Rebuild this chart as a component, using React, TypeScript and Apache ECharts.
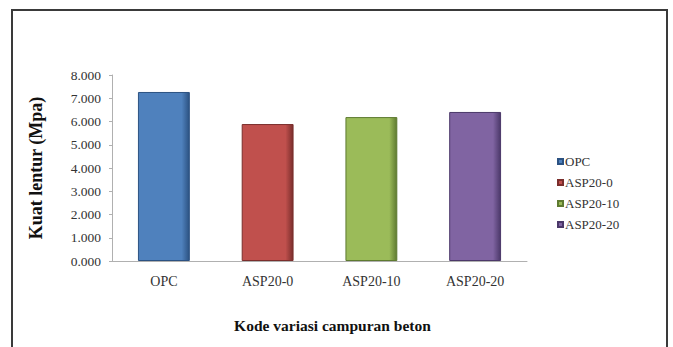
import React, { useEffect, useRef } from "react";
import * as echarts from "echarts";

const categories = ["OPC", "ASP20-0", "ASP20-10", "ASP20-20"];
const values = [7.27, 5.89, 6.19, 6.41];
const colors = ["#4F81BD", "#C0504D", "#9BBB59", "#8064A2"];
const edgeColors = ["#2C5282", "#7A2E2C", "#5E7A30", "#4B3869"];
const yTicks = [0, 1, 2, 3, 4, 5, 6, 7, 8];

const FONT = "Liberation Serif";

export default function App() {
  const ref = useRef<HTMLDivElement>(null);

  useEffect(() => {
    if (!ref.current) return;
    const chart = echarts.init(ref.current, null, { renderer: "svg" });

    const series = categories.map((name, i) => ({
      name,
      type: "bar",
      stack: "all",
      barWidth: "50%",
      data: categories.map((_, j) => (j === i ? values[i] : "-")),
      itemStyle: {
        color: new echarts.graphic.LinearGradient(0, 0, 1, 0, [
          { offset: 0, color: colors[i] },
          { offset: 0.85, color: colors[i] },
          { offset: 1, color: edgeColors[i] },
        ]),
        borderColor: edgeColors[i],
        borderWidth: 1,
      },
    }));

    chart.setOption({
      animation: false,
      backgroundColor: "#ffffff",
      color: colors,
      textStyle: { fontFamily: FONT },
      graphic: [
        {
          type: "rect",
          shape: { x: 12, y: 10, width: 655, height: 360 },
          style: { fill: "none", stroke: "#3a3a3a", lineWidth: 2 },
          silent: true,
        },
      ],
      grid: { left: 112, right: 146, top: 75, bottom: 86 },
      legend: {
        orient: "vertical",
        left: 552,
        top: 150,
        itemWidth: 5,
        itemHeight: 5,
        itemGap: 8,
        icon: "rect",
        data: categories,
        textStyle: { fontFamily: FONT, fontSize: 13, color: "#333", padding: [0, 0, 0, -3] },
      },
      xAxis: {
        type: "category",
        data: categories,
        name: "Kode variasi campuran beton",
        nameLocation: "middle",
        nameGap: 56,
        nameTextStyle: {
          fontFamily: FONT,
          fontSize: 15.5,
          fontWeight: "bold",
          color: "#111",
          padding: [0, 0, 0, 26],
        },
        axisLine: { lineStyle: { color: "#b0b0b0", width: 1 } },
        axisTick: { show: false },
        axisLabel: { fontFamily: FONT, fontSize: 14, color: "#333", margin: 13 },
      },
      yAxis: {
        type: "value",
        min: yTicks[0],
        max: yTicks[yTicks.length - 1],
        interval: 1,
        name: "Kuat lentur (Mpa)",
        nameLocation: "middle",
        nameGap: 67,
        nameTextStyle: { fontFamily: FONT, fontSize: 18, fontWeight: "bold", color: "#111" },
        axisLine: { show: true, lineStyle: { color: "#b0b0b0", width: 1 } },
        axisTick: { show: true, length: 3, lineStyle: { color: "#b0b0b0" } },
        splitLine: { show: false },
        axisLabel: {
          fontFamily: FONT,
          fontSize: 13.5,
          color: "#333",
          margin: 11,
          formatter: (v: number) => v.toFixed(3),
        },
      },
      series,
    });

    return () => chart.dispose();
  }, []);

  return (
    <div
      ref={ref}
      style={{ position: "absolute", left: 0, top: 0, width: 673, height: 347 }}
    />
  );
}
